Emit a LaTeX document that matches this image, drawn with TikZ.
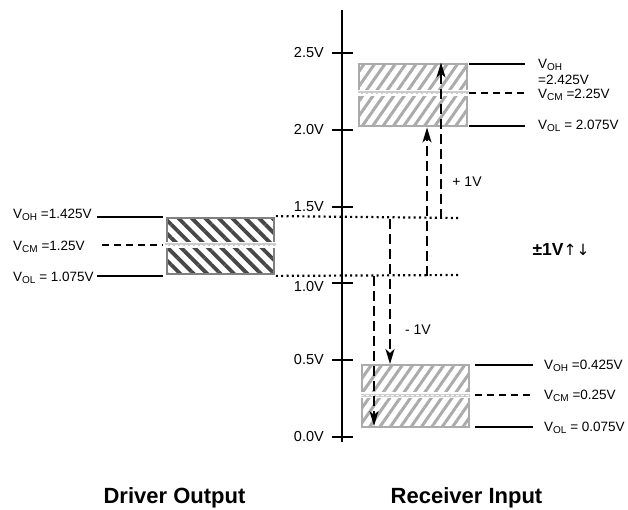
\documentclass[tikz,border=0pt]{standalone}
\usepackage{fontspec}
\setmainfont{Liberation Sans}
\newfontfamily\symfnt{DejaVu Sans}
\usetikzlibrary{patterns.meta,arrows.meta}
\newcommand\lsub[1]{\raisebox{-0.3ex}{\fontsize{10}{11}\selectfont #1}}
\begin{document}
\begin{tikzpicture}[x=1pt,y=-1pt,
  lbl/.style={font=\fontsize{13.5}{15}\selectfont, inner sep=0pt, anchor=west},
  axlbl/.style={font=\fontsize{14.5}{16}\selectfont, inner sep=0pt, anchor=east},
  txt/.style={font=\fontsize{14}{16}\selectfont, inner sep=0pt},
  ttl/.style={font=\bfseries\fontsize{22}{26}\selectfont, inner sep=0pt},
  drvbox/.style={draw=black!50, line width=2pt, minimum width=107pt, minimum height=56pt, inner sep=0pt,
    pattern={Lines[angle=-45,distance=9.5pt,line width=3.8pt]}, pattern color=black!72},
  rcvbox/.style={draw=black!33, line width=2pt, minimum width=107pt, minimum height=62pt, inner sep=0pt,
    pattern={Lines[angle=55,distance=8.5pt,line width=3pt]}, pattern color=black!33},
  midband/.style={line width=3pt, draw=black!20, preaction={draw=white,line width=6pt},
    postaction={draw=white,line width=0.8pt,dash pattern=on 3pt off 2pt}},
  lvl/.style={line width=2pt},
  lvldash/.style={line width=2pt, dash pattern=on 7pt off 5pt},
  dotl/.style={line width=2.2pt, dash pattern=on 2pt off 3.3pt},
  darr/.style={line width=2pt, dash pattern=on 10pt off 5pt, -{Stealth[length=15pt,width=9pt,inset=4pt]}},
  tick/.style={line width=2pt}
]
\useasboundingbox (0,0) rectangle (628,510);

% axis
\coordinate (axtop) at (342,10);
\coordinate (axbot) at (342,442);
\draw[line width=2.2pt] (axtop) -- (axbot);
\foreach \yy/\txtv/\nn/\dy in {53/2.5V/a/0, 130/2.0V/b/0, 207/1.5V/c/0, 283/1.0V/d/-4, 360/0.5V/e/0, 437/0.0V/f/0} {
  \coordinate (t\nn) at (342,\yy);
  \draw[tick] ([xshift=-10pt]t\nn) -- ([xshift=11pt]t\nn);
  \node[axlbl] (l\nn) at ([xshift=-18pt,yshift=\dy pt]t\nn) {\txtv};
}

% boxes
\node[drvbox] (drv) at (220.5,246) {};
\node[rcvbox, minimum width=108pt] (rcvH) at (413,95) {};
\node[rcvbox] (rcvL) at (415.5,396) {};

% left levels
\coordinate (lohA) at (97,217);  \coordinate (lohB) at (163,217);
\coordinate (lcmA) at (102,245); \coordinate (lcmB) at (163,245);
\coordinate (lolA) at (97,276);  \coordinate (lolB) at (163,276);
\draw[lvl] (lohA) -- (lohB);
\draw[lvldash] (lcmA) -- (lcmB);
\draw[lvl] (lolA) -- (lolB);
\draw[midband] (drv.west |- lcmA) -- (drv.east |- lcmA);
\node[lbl] (tlOH) at (13,215) {V\lsub{OH} =1.425V};
\node[lbl] (tlCM) at (13,247) {V\lsub{CM} =1.25V};
\node[lbl] (tlOL) at (13,278) {V\lsub{OL} = 1.075V};

% top receiver levels
\coordinate (hohA) at (469,64);  \coordinate (hohB) at (525,64);
\coordinate (hcmA) at (469,93);  \coordinate (hcmB) at (525,93);
\coordinate (holA) at (469,126); \coordinate (holB) at (525,126);
\draw[lvl] (hohA) -- (hohB);
\draw[lvldash] (hcmA) -- (hcmB);
\draw[lvl] (holA) -- (holB);
\draw[midband] (rcvH.west |- hcmA) -- (rcvH.east |- hcmA);
\node[lbl] (thOH) at (538,65) {V\lsub{OH}};
\node[lbl] (thOHv) at (538,80) {=2.425V};
\node[lbl] (thCM) at (538,95) {V\lsub{CM} =2.25V};
\node[lbl] (thOL) at (538,126) {V\lsub{OL} = 2.075V};

% bottom receiver levels
\coordinate (bohA) at (475,365); \coordinate (bohB) at (533,365);
\coordinate (bcmA) at (475,395); \coordinate (bcmB) at (533,395);
\coordinate (bolA) at (475,427); \coordinate (bolB) at (533,427);
\draw[lvl] (bohA) -- (bohB);
\draw[lvldash] (bcmA) -- (bcmB);
\draw[lvl] (bolA) -- (bolB);
\draw[midband] (rcvL.west |- bcmA) -- (rcvL.east |- bcmA);
\node[lbl] (tbOH) at (544,366) {V\lsub{OH} =0.425V};
\node[lbl] (tbCM) at (544,396) {V\lsub{CM} =0.25V};
\node[lbl] (tbOL) at (544,428) {V\lsub{OL} = 0.075V};

% dotted reference lines
\coordinate (dotHi) at (460,218);
\coordinate (dotLo) at (460,275);
\draw[dotl] (drv.north east) -- (dotHi);
\draw[dotl] (drv.south east) -- (dotLo);

% dashed arrows
\coordinate (u1s) at (427,276);
\coordinate (u2s) at (441,219);
\coordinate (d1s) at (390,219);
\coordinate (d2s) at (374,276);
\draw[darr] (u1s) -- (u1s |- rcvH.south);
\draw[darr] (u2s) -- (u2s |- rcvH.north);
\draw[darr] (d1s) -- (d1s |- rcvL.north);
\draw[darr, shorten >=2pt] (d2s) -- (d2s |- rcvL.south);

% labels
\node[txt] (plus) at (467,182) {+ 1V};
\node[txt] (minus) at (418,330) {- 1V};
\node[inner sep=0pt, font=\fontsize{17.5}{20}\selectfont] (pm) at (561,250) {\textbf{±1V}{\symfnt\fontsize{15.5}{18}\selectfont ↑↓}};

\node[ttl] (drvT) at (174.5,498) {Driver Output};
\node[ttl] (rcvT) at (466.5,498) {Receiver Input};
\end{tikzpicture}
\end{document}
